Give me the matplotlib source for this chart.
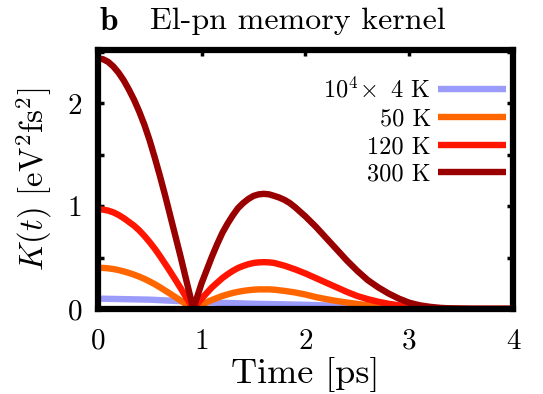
import matplotlib
matplotlib.use("Agg")
import matplotlib.pyplot as plt
from matplotlib.ticker import FixedLocator, FixedFormatter

# ---------------- data ----------------
t_300 = [0.0, 0.05, 0.1, 0.15, 0.2, 0.25, 0.3, 0.35, 0.4, 0.45, 0.5, 0.55,
         0.6, 0.65, 0.7, 0.75, 0.8, 0.85, 0.92,
         1.0, 1.05, 1.1, 1.15, 1.2, 1.25, 1.3, 1.35, 1.4, 1.45, 1.5, 1.55,
         1.6, 1.65, 1.7, 1.75, 1.8, 1.85, 1.9, 2.0, 2.1, 2.2, 2.3, 2.4, 2.5,
         2.6, 2.7, 2.8, 2.9, 3.0, 3.1, 3.2, 3.3, 3.4, 3.5, 3.6, 3.8, 4.0]
k_300 = [2.44, 2.431, 2.405, 2.36, 2.30, 2.225, 2.135, 2.035, 1.92, 1.79,
         1.64, 1.47, 1.29, 1.10, 0.90, 0.70, 0.50, 0.29, 0.0,
         0.25, 0.38, 0.51, 0.63, 0.74, 0.83, 0.91, 0.98, 1.03, 1.07, 1.10,
         1.115, 1.12, 1.115, 1.10, 1.083, 1.06, 1.03, 0.99, 0.90, 0.80, 0.69,
         0.58, 0.47, 0.37, 0.28, 0.21, 0.15, 0.10, 0.06, 0.035, 0.02, 0.01,
         0.005, 0.002, 0.0, 0.0, 0.0]

t_120 = [0.0, 0.05, 0.1, 0.15, 0.2, 0.25, 0.3, 0.35, 0.4, 0.45, 0.5, 0.55,
         0.6, 0.65, 0.7, 0.75, 0.8, 0.85, 0.92,
         1.0, 1.05, 1.1, 1.15, 1.2, 1.25, 1.3, 1.35, 1.4, 1.45, 1.5, 1.55,
         1.6, 1.65, 1.7, 1.8, 1.9, 2.0, 2.1, 2.2, 2.3, 2.4, 2.5, 2.6, 2.7,
         2.8, 2.9, 3.0, 3.1, 3.2, 3.3, 3.4, 3.5, 4.0]
k_120 = [0.97, 0.967, 0.957, 0.94, 0.915, 0.884, 0.847, 0.81, 0.764, 0.71,
         0.65, 0.585, 0.513, 0.437, 0.36, 0.28, 0.199, 0.115, 0.0,
         0.10, 0.155, 0.21, 0.255, 0.30, 0.337, 0.37, 0.398, 0.418, 0.435,
         0.447, 0.453, 0.455, 0.453, 0.447, 0.42, 0.385, 0.345, 0.30, 0.255,
         0.21, 0.165, 0.125, 0.095, 0.07, 0.05, 0.035, 0.022, 0.013, 0.007,
         0.003, 0.001, 0.0, 0.0]

t_50 = [0.0, 0.05, 0.1, 0.15, 0.2, 0.25, 0.3, 0.35, 0.4, 0.45, 0.5, 0.55,
        0.6, 0.65, 0.7, 0.75, 0.8, 0.85, 0.92,
        1.0, 1.05, 1.1, 1.15, 1.2, 1.25, 1.3, 1.35, 1.4, 1.45, 1.5, 1.55,
        1.6, 1.65, 1.7, 1.8, 1.9, 2.0, 2.1, 2.2, 2.3, 2.4, 2.5, 2.6, 2.7,
        2.8, 2.9, 3.0, 3.2, 3.4, 3.6, 4.0]
k_50 = [0.40, 0.399, 0.395, 0.388, 0.378, 0.365, 0.35, 0.333, 0.314, 0.292,
        0.267, 0.24, 0.21, 0.178, 0.146, 0.113, 0.08, 0.046, 0.0,
        0.042, 0.065, 0.087, 0.107, 0.126, 0.141, 0.155, 0.166, 0.175, 0.182,
        0.187, 0.19, 0.19, 0.19, 0.187, 0.175, 0.16, 0.14, 0.115, 0.095,
        0.077, 0.062, 0.048, 0.036, 0.027, 0.02, 0.014, 0.009, 0.004, 0.001,
        0.0, 0.0]

t_4 = [0.0, 0.5, 1.0, 1.5, 2.0, 2.5, 3.0, 3.5, 4.0]
k_4 = [0.10, 0.09, 0.065, 0.05, 0.04, 0.025, 0.01, 0.003, 0.0]

labels = [r"$10^4\!\times$ 4 K", "50 K", "120 K", "300 K"]
colors = ["#9b9bfb", "#ff6600", "#ff1500", "#990000"]

x_ticks = [0, 1, 2, 3, 4]
y_ticks = [0, 0.5, 1, 1.5, 2, 2.5]
y_ticklabels = ["0", "", "1", "", "2", ""]

# ---------------- figure ----------------
plt.rcParams["mathtext.fontset"] = "cm"
plt.rcParams["font.family"] = ["cmr10", "DejaVu Serif"]
plt.rcParams["axes.formatter.use_mathtext"] = True

fig = plt.figure(figsize=(5.43, 3.94), dpi=100)
ax = fig.add_axes([0.180, 0.216, 0.765, 0.657])

series = [(t_4, k_4), (t_50, k_50), (t_120, k_120), (t_300, k_300)]
for (tt, kk), lab, c in zip(series, labels, colors):
    ax.plot(tt, kk, color=c, lw=4.6, label=lab, solid_capstyle="butt",
            solid_joinstyle="round", clip_on=True)

ax.set_xlim(0, 4)
ax.set_ylim(0, 2.52)

for s in ax.spines.values():
    s.set_linewidth(4.5)
    s.set_color("black")

ax.xaxis.set_major_locator(FixedLocator(x_ticks))
ax.xaxis.set_major_formatter(FixedFormatter([str(v) for v in x_ticks]))
ax.yaxis.set_major_locator(FixedLocator(y_ticks))
ax.yaxis.set_major_formatter(FixedFormatter(y_ticklabels))
ax.tick_params(direction="in", length=4, width=2.5, top=True, right=True,
               labelsize=21)
ax.tick_params(axis="x", pad=14)
ax.tick_params(axis="y", pad=11)

ax.set_xlabel("Time [ps]", fontsize=26, labelpad=2)
ax.set_ylabel(r"$K(t)$ [eV$^2$fs$^2$]", fontsize=23.5, labelpad=10)

leg = ax.legend(loc="upper right", frameon=False, markerfirst=False,
                fontsize=17.5, handlelength=2.8, handletextpad=0.3,
                labelspacing=0.23, borderaxespad=0.0,
                bbox_to_anchor=(1.007, 0.932))

fig.text(0.183, 0.945, r"$\mathbf{b}$", fontsize=24, va="center", ha="left")
fig.text(0.276, 0.945, "El-pn memory kernel", fontsize=23, va="center",
         ha="left")

fig.savefig("out.png", dpi=100)
